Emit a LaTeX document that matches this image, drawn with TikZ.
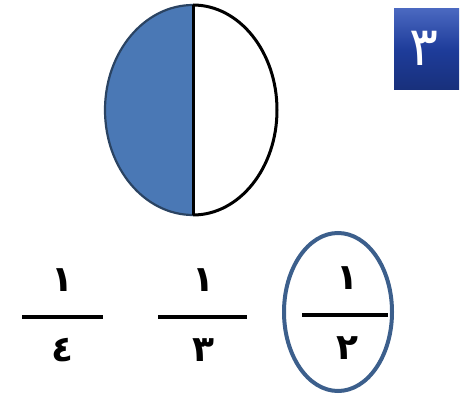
\documentclass[tikz,border=0pt]{standalone}
\usepackage{fontspec}
\newfontfamily\arabicfont[Script=Arabic]{DejaVu Sans}
\TeXXeTstate=1
\definecolor{halfblue}{HTML}{4A78B5}
\definecolor{ringblue}{HTML}{3C5F8C}
\definecolor{boxblue}{HTML}{1E3C9A}
\definecolor{boxtop}{HTML}{4A68C0}
\tikzset{
  digit/.style={font=\arabicfont\bfseries\fontsize{36}{36}\selectfont, inner sep=0pt},
  fracbar/.style={line width=3.4pt, black},
}
\begin{document}
\begin{tikzpicture}[x=1pt,y=-1pt]
\useasboundingbox (0,0) rectangle (468,398);
% half shaded ellipse
\fill[halfblue] (193,5) arc[start angle=-90,end angle=-270,x radius=88,y radius=105] -- cycle;
\draw[line width=3pt] (193,5) arc[start angle=-90,end angle=90,x radius=84,y radius=105];
\draw[line width=2.2pt, ringblue!70!black] (193,5) arc[start angle=-90,end angle=-270,x radius=88,y radius=105];
\draw[line width=3pt] (193,5) -- (193,215);
% numbered box
\shade[top color=boxtop, bottom color=boxblue!80!black, middle color=boxblue] (394,9) rectangle (459,90);
\node[inner sep=0pt, text=white, font=\arabicfont\fontsize{54}{54}\selectfont] (box) at (424,48) {\beginR ٣\endR};
% fractions
\node[digit] (n1) at (62,280) {\beginR ١\endR};
\node[digit] (d1) at (62,350) {\beginR ٤\endR};
\draw[fracbar] (22,317) -- (103,317);
\node[digit] (n2) at (203,280) {\beginR ١\endR};
\node[digit] (d2) at (203,350) {\beginR ٣\endR};
\draw[fracbar] (158,317) -- (247,317);
\node[digit] (n3) at (347,278) {\beginR ١\endR};
\node[digit] (d3) at (347,348) {\beginR ٢\endR};
\draw[fracbar] (302,315) -- (388,315);
\draw[ringblue, line width=4pt] (338,312) ellipse[x radius=54, y radius=79];
\end{tikzpicture}
\end{document}
